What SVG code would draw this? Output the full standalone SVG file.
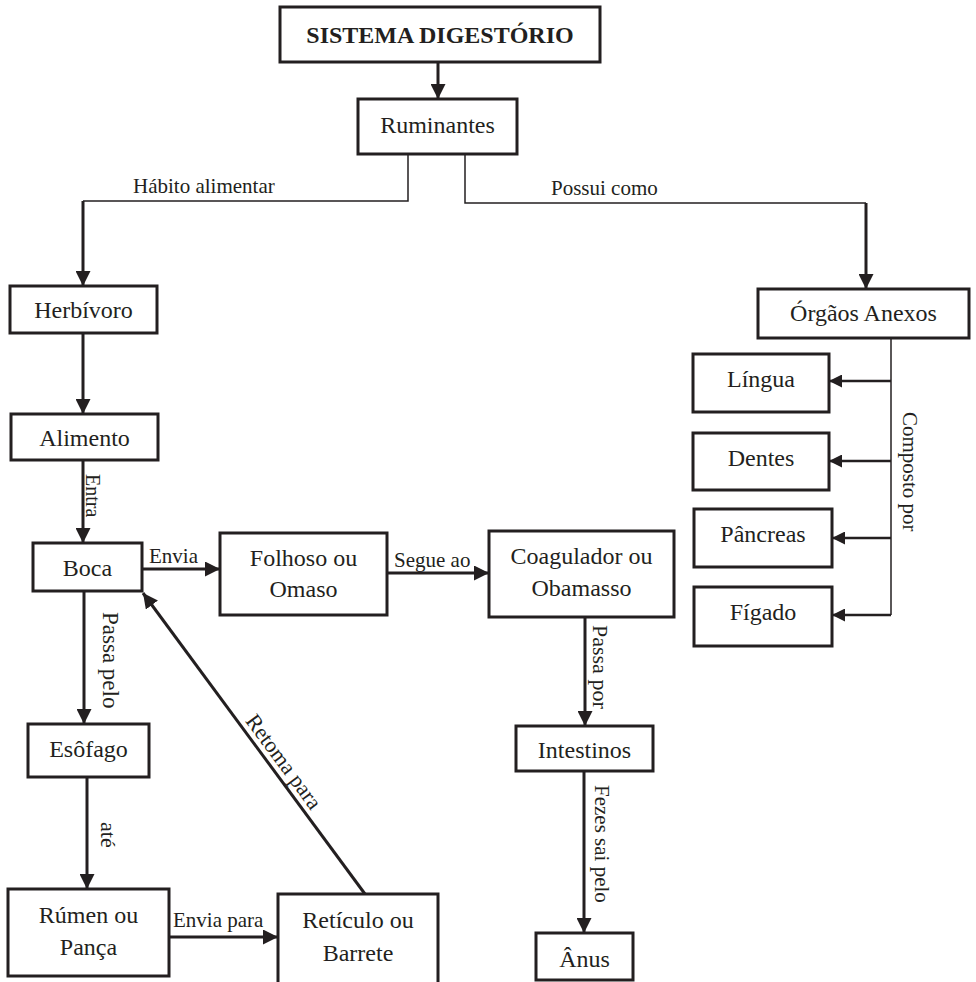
<svg xmlns="http://www.w3.org/2000/svg" width="976" height="982" viewBox="0 0 976 982">
<defs>
<style>
.box{fill:#fff;stroke:#231f20;stroke-width:3}
.t{font-family:"Liberation Serif","Times New Roman",serif;font-size:24px;fill:#231f20;text-anchor:middle}
.lbl{font-family:"Liberation Serif","Times New Roman",serif;font-size:21px;fill:#231f20}
.thick{fill:none;stroke:#231f20;stroke-width:3}
.thin{fill:none;stroke:#231f20;stroke-width:1.5}
.mid{fill:none;stroke:#231f20;stroke-width:2.5}
</style>
<marker id="ah" viewBox="0 0 10 10" refX="10" refY="5" markerWidth="15" markerHeight="15" markerUnits="userSpaceOnUse" orient="auto">
<path d="M0,0 L10,5 L0,10 z" fill="#231f20"/>
</marker>
<marker id="ahs" viewBox="0 0 10 10" refX="10" refY="5" markerWidth="13" markerHeight="13" markerUnits="userSpaceOnUse" orient="auto">
<path d="M0,0 L10,5 L0,10 z" fill="#231f20"/>
</marker>
</defs>
<rect width="976" height="982" fill="#fff"/>

<g id="connectors">
<line class="thick" x1="438" y1="62" x2="438" y2="99" marker-end="url(#ah)"/>
<polyline class="thin" points="408,155 408,201 83,201"/>
<line class="thick" x1="83" y1="201" x2="83" y2="286" marker-end="url(#ah)"/>
<polyline class="thin" points="465,155 465,203 866,203"/>
<line class="thick" x1="866" y1="203" x2="866" y2="289" marker-end="url(#ah)"/>
<line class="thick" x1="83" y1="333" x2="83" y2="414" marker-end="url(#ah)"/>
<line class="thick" x1="83" y1="460" x2="83" y2="543" marker-end="url(#ah)"/>
<line class="thick" x1="142" y1="569" x2="220" y2="569" marker-end="url(#ah)"/>
<line class="thick" x1="387" y1="573" x2="489" y2="573" marker-end="url(#ah)"/>
<line class="thick" x1="84" y1="591" x2="84" y2="724" marker-end="url(#ah)"/>
<line class="thick" x1="87" y1="777" x2="87" y2="889" marker-end="url(#ah)"/>
<line class="thick" x1="169" y1="937" x2="278" y2="937" marker-end="url(#ah)"/>
<line class="thick" x1="365" y1="894" x2="143" y2="593" marker-end="url(#ah)"/>
<line class="thick" x1="585" y1="617" x2="585" y2="726" marker-end="url(#ah)"/>
<line class="thick" x1="584" y1="771" x2="584" y2="933" marker-end="url(#ah)"/>
<line class="thin" x1="891" y1="338" x2="891" y2="615"/>
<line class="mid" x1="891" y1="381" x2="829" y2="381" marker-end="url(#ahs)"/>
<line class="mid" x1="891" y1="461" x2="829" y2="461" marker-end="url(#ahs)"/>
<line class="mid" x1="891" y1="538" x2="832" y2="538" marker-end="url(#ahs)"/>
<line class="mid" x1="891" y1="615" x2="832" y2="615" marker-end="url(#ahs)"/>

<text class="lbl" x="133" y="193">Hábito alimentar</text>
<text class="lbl" x="551" y="195">Possui como</text>
<text class="lbl" style="font-size:20px" transform="translate(86,474) rotate(90)">Entra</text>
<text class="lbl" x="149" y="563">Envia</text>
<text class="lbl" x="394" y="567">Segue ao</text>
<text class="lbl" style="font-size:23px" transform="translate(103,612) rotate(90)">Passa pelo</text>
<text class="lbl" style="font-size:22px" transform="translate(101,822) rotate(90)">até</text>
<text class="lbl" x="173" y="927">Envia para</text>
<text class="lbl" style="font-size:22px;text-anchor:middle" transform="translate(278,766) rotate(53.6)">Retoma para</text>
<text class="lbl" style="font-size:22px" transform="translate(593,625) rotate(90)">Passa por</text>
<text class="lbl" transform="translate(595,785) rotate(90)">Fezes sai pelo</text>
<text class="lbl" transform="translate(903,412) rotate(90)">Composto por</text>
</g>

<g id="title"><rect class="box" x="280" y="7" width="320" height="55"/><text class="t" x="440" y="43" font-weight="bold">SISTEMA DIGESTÓRIO</text></g>
<g id="ruminantes"><rect class="box" x="358" y="99" width="159" height="55"/><text class="t" x="437.5" y="133">Ruminantes</text></g>
<g id="herbivoro"><rect class="box" x="10" y="286" width="147" height="47"/><text class="t" x="83.5" y="318">Herbívoro</text></g>
<g id="orgaos"><rect class="box" x="758" y="289" width="211" height="49"/><text class="t" x="863.5" y="321">Órgãos Anexos</text></g>
<g id="alimento"><rect class="box" x="11" y="414" width="147" height="46"/><text class="t" x="84.5" y="446">Alimento</text></g>
<g id="boca"><rect class="box" x="33" y="543" width="109" height="48"/><text class="t" x="87.5" y="576">Boca</text></g>
<g id="folhoso"><rect class="box" x="220" y="533" width="167" height="82"/><text class="t" x="303.5" y="566">Folhoso ou</text><text class="t" x="303.5" y="597">Omaso</text></g>
<g id="coagulador"><rect class="box" x="489" y="531" width="185" height="86"/><text class="t" x="581.5" y="564">Coagulador ou</text><text class="t" x="581.5" y="596">Obamasso</text></g>
<g id="lingua"><rect class="box" x="693" y="354" width="136" height="58"/><text class="t" x="761" y="387">Língua</text></g>
<g id="dentes"><rect class="box" x="693" y="433" width="136" height="57"/><text class="t" x="761" y="466">Dentes</text></g>
<g id="pancreas"><rect class="box" x="694" y="509" width="138" height="58"/><text class="t" x="763" y="542">Pâncreas</text></g>
<g id="figado"><rect class="box" x="694" y="587" width="138" height="59"/><text class="t" x="763" y="620">Fígado</text></g>
<g id="esofago"><rect class="box" x="28" y="724" width="121" height="53"/><text class="t" x="88.5" y="757">Esôfago</text></g>
<g id="rumen"><rect class="box" x="8" y="889" width="161" height="87"/><text class="t" x="88.5" y="923">Rúmen ou</text><text class="t" x="88.5" y="955">Pança</text></g>
<g id="reticulo"><rect class="box" x="278" y="894" width="160" height="95"/><text class="t" x="358" y="928">Retículo ou</text><text class="t" x="358" y="961">Barrete</text></g>
<g id="intestinos"><rect class="box" x="516" y="726" width="137" height="45"/><text class="t" x="584.5" y="758">Intestinos</text></g>
<g id="anus"><rect class="box" x="536" y="933" width="97" height="47"/><text class="t" x="584.5" y="967">Ânus</text></g>
</svg>
